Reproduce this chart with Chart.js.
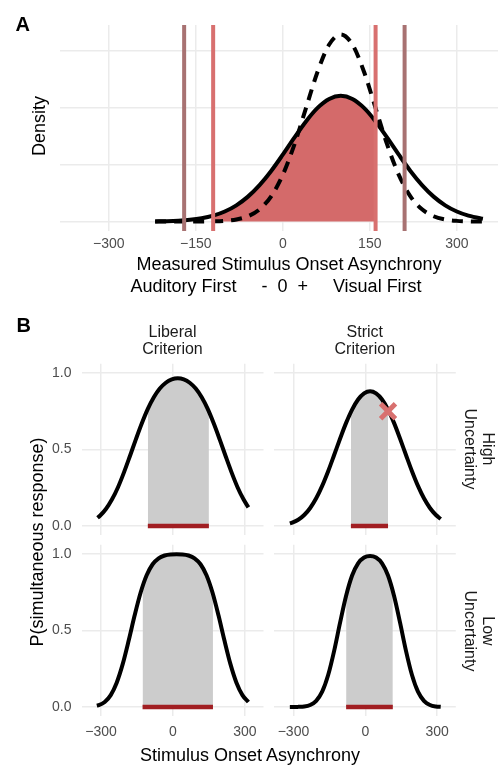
<!DOCTYPE html>
<html>
<head>
<meta charset="utf-8">
<script src="https://cdn.jsdelivr.net/npm/chart.js@4.4.1/dist/chart.umd.min.js"></script>
<style>
  html, body { margin: 0; padding: 0; background: #fff; }
  #wrap { position: relative; width: 498px; height: 765px; overflow: hidden; }
  #wrap canvas { position: absolute; left: 0; top: 0; }
</style>
</head>
<body>
<div id="wrap">
  <canvas id="panelA" width="498" height="765"></canvas>
  <canvas id="highLib" width="498" height="765"></canvas>
  <canvas id="highStrict" width="498" height="765"></canvas>
  <canvas id="lowLib" width="498" height="765"></canvas>
  <canvas id="lowStrict" width="498" height="765"></canvas>
</div>
<script>
// ---- Panel A: density of measured SOA ----
const somX = [-220, -200, -180, -160, -140, -120, -100, -80, -60, -40, -20, 0, 20, 40, 60,
  80, 100, 120, 140, 160, 180, 200, 220, 240, 260, 280, 300, 320, 340, 345];
const densWide = [0.004, 0.008, 0.016, 0.031, 0.058, 0.104, 0.177, 0.286, 0.439, 0.641, 0.890,
  1.176, 1.475, 1.761, 1.998, 2.155, 2.210, 2.155, 1.998, 1.761, 1.475, 1.176, 0.890, 0.641,
  0.439, 0.286, 0.177, 0.104, 0.058, 0.050];
const densNarrow = [0, 0, 0, 0, 0.001, 0.004, 0.013, 0.037, 0.094, 0.216, 0.445, 0.821, 1.352,
  1.995, 2.634, 3.112, 3.290, 3.112, 2.634, 1.995, 1.352, 0.821, 0.445, 0.216, 0.094, 0.037,
  0.013, 0.004, 0.001, 0.001];
const critOuter = [-170, 210];
const critInner = [-120, 160];
const critInnerEdge = [0.104, 1.761];
const ticksA = [-300, -150, 0, 150, 300];

// ---- Panel B: P(simultaneous) per criterion x uncertainty ----
const soaX = [-315, -305, -280, -255, -230, -205, -180, -155, -130, -105, -80, -55, -30, -5, 20,
  45, 70, 95, 120, 145, 170, 195, 220, 245, 270, 295, 315];
const soaXLowLib = [-318, -310, -285, -260, -235, -210, -185, -160, -135, -110, -85, -60, -35,
  -10, 15, 40, 65, 90, 115, 140, 165, 190, 215, 240, 265, 290, 315];
const pHighLib = [0.054, 0.067, 0.111, 0.173, 0.252, 0.349, 0.456, 0.566, 0.671, 0.765, 0.841,
  0.898, 0.936, 0.958, 0.965, 0.958, 0.936, 0.898, 0.841, 0.765, 0.671, 0.566, 0.456, 0.349,
  0.252, 0.173, 0.122];
const pHighStrict = [0.017, 0.022, 0.041, 0.072, 0.118, 0.181, 0.262, 0.358, 0.464, 0.572, 0.674,
  0.761, 0.827, 0.867, 0.881, 0.867, 0.827, 0.761, 0.674, 0.572, 0.464, 0.358, 0.262, 0.181,
  0.118, 0.072, 0.046];
const pLowLib = [0.009, 0.012, 0.033, 0.078, 0.159, 0.280, 0.434, 0.599, 0.748, 0.861, 0.933,
  0.972, 0.990, 0.997, 0.998, 0.997, 0.990, 0.972, 0.933, 0.861, 0.748, 0.599, 0.434, 0.280,
  0.159, 0.078, 0.033];
const pLowStrict = [0, 0, 0.001, 0.003, 0.013, 0.040, 0.100, 0.209, 0.367, 0.553, 0.727, 0.859,
  0.939, 0.977, 0.987, 0.977, 0.939, 0.859, 0.727, 0.553, 0.367, 0.209, 0.100, 0.040, 0.013,
  0.003, 0.001];
const winHighLib = [-105, 150], edgeHighLib = [0.765, 0.748];
const winHighStrict = [-60, 95], edgeHighStrict = [0.744, 0.761];
const winLowLib = [-127, 167], edgeLowLib = [0.788, 0.737];
const winLowStrict = [-80, 115], edgeLowStrict = [0.727, 0.755];
const missPoint = [95, 0.75];
const ticksBX = [-300, 0, 300];
const ticksBY = [0, 0.5, 1];

const FONT = "'Liberation Sans', Arial, Helvetica, sans-serif";
const RED = '#d46a6a', RED_LINE = '#d8706f', BROWN = '#a87272', DARKRED = '#a11e22';

function pts(xs, ys) { return xs.map((x, i) => ({ x, y: ys[i] })); }

// area under curve inside a criterion window, edge heights
function windowFill(xs, ys, win, edge) {
  const out = [{ x: win[0], y: edge[0] }];
  xs.forEach((x, i) => { if (x > win[0] && x < win[1]) out.push({ x, y: ys[i] }); });
  out.push({ x: win[1], y: edge[1] });
  return out;
}

function axis(min, max, ticks, opt) {
  return {
    type: 'linear', min, max,
    afterBuildTicks: s => { s.ticks = ticks.map(v => ({ value: v })); },
    afterFit: s => { if (opt.horiz) s.height = opt.size; else s.width = opt.size; },
    grid: { color: '#ebebeb', lineWidth: 1.5, drawTicks: false },
    border: { display: false },
    ticks: {
      display: opt.show, padding: opt.pad, color: '#4d4d4d', autoSkip: false, maxRotation: 0,
      font: { family: FONT, size: 14 }, callback: opt.fmt
    }
  };
}
const fmtX = v => (v < 0 ? '\u2212' + Math.abs(v) : String(v));
const fmtY = v => v.toFixed(1);

function makeChart(id, padding, scales, datasets) {
  return new Chart(document.getElementById(id), {
    type: 'line',
    data: { datasets },
    options: {
      responsive: false, animation: false, devicePixelRatio: 1,
      layout: { padding },
      plugins: { legend: { display: false }, tooltip: { enabled: false } },
      elements: { point: { radius: 0 } },
      scales
    }
  });
}

function vline(x, color, yr) {
  return { data: [{ x, y: yr[0] }, { x, y: yr[1] }], borderColor: color, borderWidth: 4, order: 1 };
}

// Panel A
const yA = [-0.165, 3.455];
makeChart('panelA', { left: 60, top: 25, right: 0, bottom: 504 }, {
  x: axis(-384, 371, ticksA, { horiz: true, size: 30, show: true, pad: 5, fmt: fmtX }),
  y: axis(yA[0], yA[1], [0, 1, 2, 3], { horiz: false, size: 0, show: false, pad: 0 })
}, [
  { data: windowFill(somX, densWide, critInner, critInnerEdge), borderWidth: 0,
    borderColor: 'transparent', backgroundColor: RED, fill: 'origin',
    cubicInterpolationMode: 'monotone', order: 10 },
  { data: pts(somX, densNarrow), borderColor: '#000', borderWidth: 4, borderDash: [11, 8],
    cubicInterpolationMode: 'monotone', order: 5 },
  { data: pts(somX, densWide), borderColor: '#000', borderWidth: 4,
    cubicInterpolationMode: 'monotone', order: 4 },
  vline(critOuter[0], BROWN, yA), vline(critOuter[1], BROWN, yA),
  vline(critInner[0], RED_LINE, yA), vline(critInner[1], RED_LINE, yA)
]);

// Panel B facets
const xB = [-382, 378], yB = [-0.06, 1.06];
function facet(id, col, row, xs, ys, win, edge, extra) {
  const left = col === 0 ? 81.5 : 273.8;
  const top = row === 0 ? 363.8 : 544.8;
  const yw = col === 0 ? 30 : 0;
  const xh = row === 1 ? 30 : 0;
  const padding = { left: left - yw, top, right: 498 - (left + 182), bottom: 765 - (top + 171.4) - xh };
  const datasets = [
    { data: windowFill(xs, ys, win, edge), borderWidth: 0, borderColor: 'transparent',
      backgroundColor: '#cccccc', fill: 'origin', cubicInterpolationMode: 'monotone', order: 10 },
    { data: [{ x: win[0], y: 0 }, { x: win[1], y: 0 }], borderColor: DARKRED, borderWidth: 4.5, order: 3 },
    { data: pts(xs, ys), borderColor: '#000', borderWidth: 4, cubicInterpolationMode: 'monotone', order: 2 }
  ].concat(extra || []);
  makeChart(id, padding, {
    x: axis(xB[0], xB[1], ticksBX, { horiz: true, size: xh, show: row === 1, pad: 8, fmt: fmtX }),
    y: axis(yB[0], yB[1], ticksBY, { horiz: false, size: yw, show: col === 0, pad: 10, fmt: fmtY })
  }, datasets);
}

facet('highLib', 0, 0, soaX, pHighLib, winHighLib, edgeHighLib);
facet('highStrict', 1, 0, soaX, pHighStrict, winHighStrict, edgeHighStrict, [{
  data: [{ x: missPoint[0], y: missPoint[1] }], showLine: false, pointStyle: 'crossRot',
  pointRadius: 10.5, pointBorderWidth: 5, pointBorderColor: RED_LINE, order: 0
}]);
facet('lowLib', 0, 1, soaXLowLib, pLowLib, winLowLib, edgeLowLib);
facet('lowStrict', 1, 1, soaX, pLowStrict, winLowStrict, edgeLowStrict);

// ---- text labels, anchored on their baseline ----
function label(text, x, y, o) {
  o = Object.assign({ size: 18, color: '#000', weight: 'normal', align: 'center', rotate: 0 }, o);
  const d = document.createElement('div');
  d.style.cssText = `position:absolute;left:${x}px;top:${y}px;width:0;height:0;` +
    `transform:rotate(${o.rotate}deg);transform-origin:0 0;`;
  const s = document.createElement('span');
  const tx = o.align === 'center' ? '-50%' : (o.align === 'right' ? '-100%' : '0');
  s.style.cssText = `position:absolute;left:0;top:${-0.8465 * o.size}px;transform:translateX(${tx});` +
    `white-space:pre;font:${o.weight} ${o.size}px/${o.size}px ${FONT};color:${o.color};`;
  s.textContent = text;
  d.appendChild(s);
  document.getElementById('wrap').appendChild(d);
}

label('A', 15.5, 30.7, { size: 20, weight: 'bold', align: 'left' });
label('Density', 44.5, 126, { rotate: -90 });
label('Measured Stimulus Onset Asynchrony', 289, 270);
label('Auditory First     -  0  +     Visual First', 276, 292);

label('B', 16.5, 331.7, { size: 20, weight: 'bold', align: 'left' });
label('Liberal', 172.5, 337.7, { size: 16, color: '#1a1a1a' });
label('Criterion', 172.5, 355, { size: 16, color: '#1a1a1a' });
label('Strict', 364.8, 337.7, { size: 16, color: '#1a1a1a' });
label('Criterion', 364.8, 355, { size: 16, color: '#1a1a1a' });
label('High', 481.5, 449, { size: 16, color: '#1a1a1a', rotate: 90 });
label('Uncertainty', 464.2, 449, { size: 16, color: '#1a1a1a', rotate: 90 });
label('Low', 481.5, 631, { size: 16, color: '#1a1a1a', rotate: 90 });
label('Uncertainty', 464.2, 631, { size: 16, color: '#1a1a1a', rotate: 90 });
label('P(simultaneous response)', 43, 542, { rotate: -90 });
label('Stimulus Onset Asynchrony', 250, 761.7);
</script>
</body>
</html>
